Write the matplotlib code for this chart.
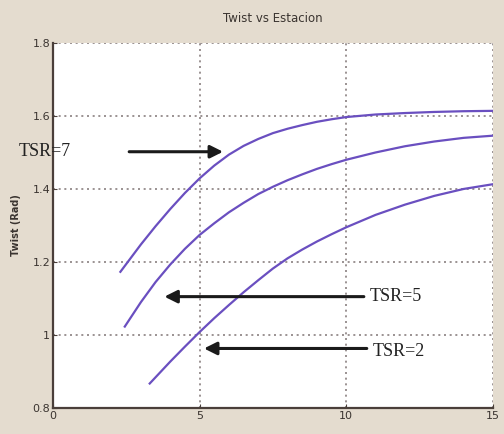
import matplotlib
matplotlib.use("Agg")
import matplotlib.pyplot as plt

# ------------------------------------------------------------
# Data
# ------------------------------------------------------------
x_tsr7 = [2.3, 3.0, 3.5, 4.0, 4.5, 5.0, 5.5, 6.0, 6.5, 7.0, 7.5, 8.0, 8.5, 9.0, 9.5,
          10.0, 11.0, 12.0, 13.0, 14.0, 15.0]
y_tsr7 = [1.173, 1.248, 1.298, 1.345, 1.389, 1.429, 1.464, 1.494, 1.518, 1.537, 1.553,
          1.565, 1.575, 1.584, 1.591, 1.597, 1.604, 1.608, 1.611, 1.613, 1.614]

x_tsr5 = [2.45, 3.0, 3.5, 4.0, 4.5, 5.0, 5.5, 6.0, 6.5, 7.0, 7.5, 8.0, 8.5, 9.0, 9.5,
          10.0, 11.0, 12.0, 13.0, 14.0, 15.0]
y_tsr5 = [1.023, 1.090, 1.145, 1.193, 1.236, 1.274, 1.306, 1.336, 1.362, 1.386, 1.406,
          1.424, 1.440, 1.455, 1.468, 1.480, 1.500, 1.517, 1.530, 1.540, 1.546]

x_tsr2 = [3.3, 4.0, 4.5, 5.0, 5.5, 6.0, 6.5, 7.0, 7.5, 8.0, 8.5, 9.0, 9.5, 10.0,
          11.0, 12.0, 13.0, 14.0, 15.0]
y_tsr2 = [0.867, 0.927, 0.968, 1.008, 1.046, 1.082, 1.117, 1.150, 1.182, 1.210, 1.234,
          1.256, 1.276, 1.295, 1.329, 1.357, 1.381, 1.400, 1.413]

x_ticks = [0, 5, 10, 15]
y_ticks = [0.8, 1.0, 1.2, 1.4, 1.6, 1.8]
y_tick_labels = ["0.8", "1", "1.2", "1.4", "1.6", "1.8"]

# ------------------------------------------------------------
# Style
# ------------------------------------------------------------
bg_color = "#e4dccf"
line_color = "#6a4fc0"
text_color = "#3a3430"
spine_color = "#4a3f3a"
grid_color = "#8a8080"

fig = plt.figure(figsize=(5.04, 4.34), dpi=100, facecolor=bg_color)
ax = fig.add_axes([0.105, 0.060, 0.873, 0.841])
ax.set_facecolor("white")

for xs, ys in [(x_tsr7, y_tsr7), (x_tsr5, y_tsr5), (x_tsr2, y_tsr2)]:
    ax.plot(xs, ys, color=line_color, linewidth=1.6)

ax.set_xlim(0, 15)
ax.set_ylim(0.8, 1.8)
ax.set_xticks(x_ticks)
ax.set_xticklabels([str(t) for t in x_ticks])
ax.set_yticks(y_ticks)
ax.set_yticklabels(y_tick_labels)
ax.tick_params(direction="in", length=3, colors=spine_color, labelcolor=text_color,
               labelsize=8, pad=2)

ax.grid(True, linestyle=(0, (1.2, 2.2)), color=grid_color, linewidth=1.2)
ax.set_axisbelow(True)

ax.spines["top"].set_visible(False)
ax.spines["right"].set_visible(False)
ax.spines["left"].set_color(spine_color)
ax.spines["bottom"].set_color(spine_color)
ax.spines["left"].set_linewidth(1.6)
ax.spines["bottom"].set_linewidth(1.6)

ax.set_title("Twist vs Estacion", fontsize=8.5, color=text_color, pad=15)
ax.set_ylabel("Twist (Rad)", fontsize=7, color=text_color, fontweight="bold", labelpad=8)

# ------------------------------------------------------------
# Annotations
# ------------------------------------------------------------
arrow_kw = dict(arrowstyle="-|>", color="#1a1a1a", lw=2.2, mutation_scale=19,
                shrinkA=0, shrinkB=0)
serif = "Liberation Serif"

ax.annotate("", xy=(5.8, 1.502), xytext=(2.6, 1.502), arrowprops=arrow_kw)
ax.text(-1.15, 1.502, "TSR=7", fontsize=13, family=serif, color="#222222",
        ha="left", va="center", clip_on=False)

ax.annotate("", xy=(3.8, 1.105), xytext=(10.6, 1.105), arrowprops=arrow_kw)
ax.text(10.8, 1.105, "TSR=5", fontsize=13, family=serif, color="#222222",
        ha="left", va="center")

ax.annotate("", xy=(5.15, 0.963), xytext=(10.7, 0.963), arrowprops=arrow_kw)
ax.text(10.9, 0.955, "TSR=2", fontsize=13, family=serif, color="#222222",
        ha="left", va="center")

fig.savefig("out.png", dpi=100, facecolor=bg_color)
